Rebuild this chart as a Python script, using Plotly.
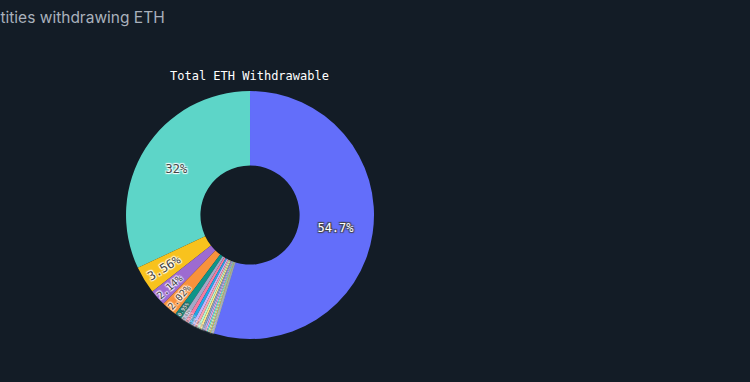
import plotly.graph_objects as go

entities = ["Unidentified", "Lido", "Coinbase", "Kraken", "Binance", "Rocket Pool",
            "Staked.us", "Figment", "Bitcoin Suisse", "Stakefish", "Abyss Finance",
            "Frax Finance", "Stader", "Ankr", "Swell", "Celsius", "OKX", "Bitfinex",
            "Huobi", "StakeWise", "Kiln", "P2P.org", "Blox Staking", "Allnodes"]
withdrawable_pct = [54.7, 32.0, 3.56, 2.14, 2.02, 0.95, 0.62, 0.52, 0.45, 0.40,
                    0.36, 0.32, 0.28, 0.25, 0.22, 0.20, 0.18, 0.16, 0.14, 0.12,
                    0.11, 0.10, 0.09, 0.08]
slice_colors = ["#636efa", "#5dd5c8", "#f8c21d", "#9d6bd1", "#f8923c", "#0f9488",
                "#a3a8c8", "#f47ba1", "#22a7e6", "#c4b5fd", "#fda4af", "#bbf7d0",
                "#fde68a", "#94a3b8", "#a5b4fc", "#f9a8d4", "#67e8f9", "#d9f99d",
                "#cbd5e1", "#fcd34d", "#a7f3d0", "#ddd6fe", "#fecaca", "#bae6fd"]
pie_title = "Total ETH Withdrawable"
chart_title = "Entities withdrawing ETH"

fig = go.Figure(go.Pie(
    labels=entities,
    values=withdrawable_pct,
    hole=0.4,
    sort=True,
    direction="counterclockwise",
    textinfo="percent",
    textposition="inside",
    marker=dict(colors=slice_colors, line=dict(width=0)),
    textfont=dict(family="DejaVu Sans Mono, monospace", size=12, shadow="auto"),
    domain=dict(x=[0.168, 0.4987], y=[0.1126, 0.7618]),
    showlegend=False,
))

fig.add_annotation(text=pie_title, xref="paper", yref="paper",
                   x=0.3333, y=0.801, xanchor="center", yanchor="middle",
                   showarrow=False,
                   font=dict(family="DejaVu Sans Mono, monospace", size=12, color="#ffffff"))

fig.add_annotation(text=chart_title, xref="paper", yref="paper",
                   x=-0.027, y=1, xanchor="left", yanchor="top", yshift=-6,
                   showarrow=False,
                   font=dict(family="Inter, sans-serif", size=15.5, color="#a9b1bc"))

fig.update_layout(
    width=750, height=382,
    margin=dict(l=0, r=0, t=0, b=0),
    paper_bgcolor="#131c26",
    plot_bgcolor="#131c26",
    showlegend=False,
)

fig.write_html("out.html")
